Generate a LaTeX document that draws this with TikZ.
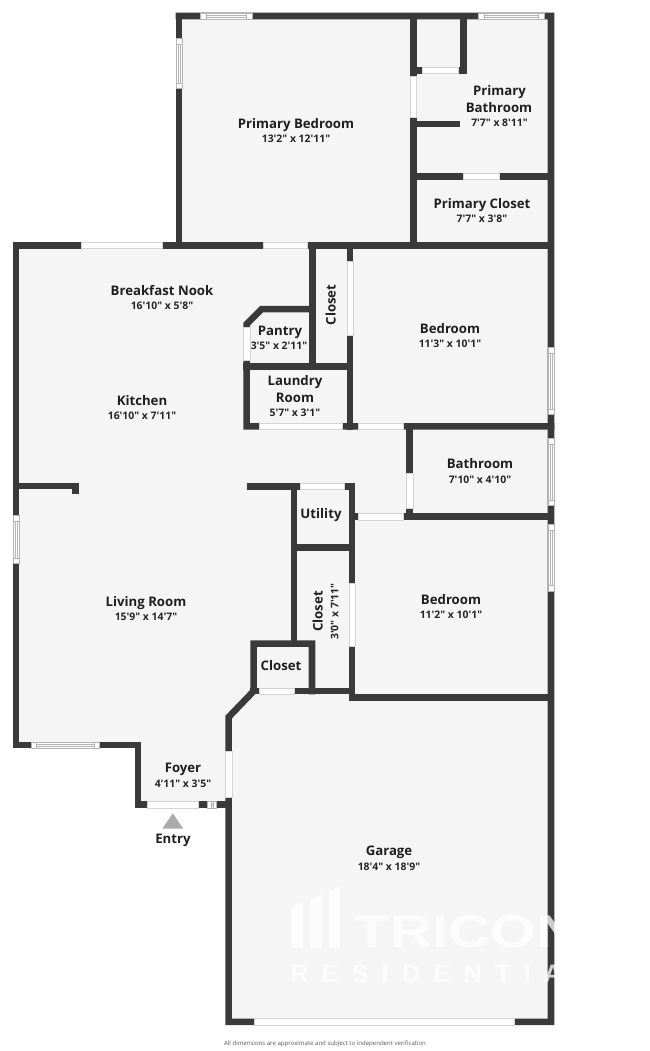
\documentclass[tikz,border=0pt]{standalone}
\usepackage{fontspec}
\newfontfamily\planfont{Open Sans}
\newfontfamily\markfont{Liberation Sans}
\newfontfamily\footfont{Open Sans}
\definecolor{wallc}{HTML}{3A3A3A}
\definecolor{floorc}{HTML}{F5F5F5}
\definecolor{edgec}{HTML}{D4D4D4}
\definecolor{winc}{HTML}{B4B4B4}
\newcommand{\hwin}[3]{%
  \fill[white] (#1,#3-3.2) rectangle (#2,#3+3.2);
  \draw[winline] (#1,#3-3.2) rectangle (#2,#3+3.2);
  \draw[winline] (#1+5.5,#3-3.2) -- (#1+5.5,#3+3.2) (#2-5.5,#3-3.2) -- (#2-5.5,#3+3.2);
  \draw[winline] (#1+5.5,#3-1) -- (#2-5.5,#3-1) (#1+5.5,#3+1) -- (#2-5.5,#3+1);}
\newcommand{\vwin}[3]{%
  \fill[white] (#3-3.2,#1) rectangle (#3+3.2,#2);
  \draw[winline] (#3-3.2,#1) rectangle (#3+3.2,#2);
  \draw[winline] (#3-3.2,#1+5.5) -- (#3+3.2,#1+5.5) (#3-3.2,#2-5.5) -- (#3+3.2,#2-5.5);
  \draw[winline] (#3-1,#1+5.5) -- (#3-1,#2-5.5) (#3+1,#1+5.5) -- (#3+1,#2-5.5);}
\newcommand{\hdoor}[3]{\draw[dooredge] (#1,#3-3.2) rectangle (#2,#3+3.2);}
\newcommand{\vdoor}[3]{\draw[dooredge] (#3-3.2,#1) rectangle (#3+3.2,#2);}
\tikzset{
  wall/.style={draw=wallc,line width=4.9pt,line cap=rect,line join=miter},
  winline/.style={draw=winc,line width=0.35pt},
  dooredge/.style={fill=white,draw=edgec,line width=0.4pt},
  namebase/.style={font=\planfont\bfseries\fontsize{9.9}{12}\selectfont,text=black!88,inner sep=0pt,anchor=base},
  dimbase/.style={font=\planfont\bfseries\fontsize{7.8}{10}\selectfont,text=black!85,inner sep=0pt,anchor=base},
  roomname/.style={namebase,yshift=-3.75pt},
  roomdim/.style={dimbase,yshift=-3.2pt}
}
\begin{document}
\begin{tikzpicture}[x=0.75pt,y=-0.75pt]
\useasboundingbox (0,0) rectangle (650,1051);
% floor
\fill[floorc] (16,245.5) -- (179,245.5) -- (179,16) -- (551,16) -- (551,1022) -- (228.7,1022) -- (228.7,804.7) -- (138,804.7) -- (138,745) -- (16,745) -- cycle;
% walls
\draw[wall] (179,16) -- (551,16) -- (551,1021.8) -- (228.7,1021.8) -- (228.7,717) -- (253.7,691) -- (253.7,643.7) -- (312,643.7) -- (312,691);
\draw[wall] (228.7,804.7) -- (138,804.7) -- (138,745) -- (16,745) -- (16,245.5) -- (179,245.5) -- (179,16);
\draw[wall] (179,245.5) -- (551,245.5);
\draw[wall] (413.3,16) -- (413.3,245.5);
\draw[wall] (463.5,16) -- (463.5,70.3) -- (413.3,70.3);
\draw[wall] (413.3,124) -- (457,124);
\draw[wall] (413.3,176.3) -- (551,176.3);
\draw[wall] (312.7,245.5) -- (312.7,366.3);
\draw[wall] (350,245.5) -- (350,426.3);
\draw[wall] (246.7,366.3) -- (350,366.3);
\draw[wall] (312.7,309.2) -- (261.5,309.2) -- (246.7,324) -- (246.7,426.3) -- (551,426.3);
\draw[wall] (409.7,426.3) -- (409.7,516.7);
\draw[wall] (352,516.7) -- (551,516.7);
\draw[wall] (250,486.3) -- (352,486.3) -- (352,697.5) -- (551,697.5);
\draw[wall] (294,486.3) -- (294,643.7);
\draw[wall] (294,547.7) -- (352,547.7);
\draw[wall] (253.7,691) -- (352,691);
\draw[wall] (16,486) -- (75.3,486) -- (75.3,491);
% windows
\hwin{200.7}{252}{16}
\hwin{478.3}{544}{16}
\vwin{38.3}{88.3}{179}
\vwin{347.7}{414.3}{551}
\vwin{438.3}{505.7}{551}
\vwin{524.3}{591}{551}
\vwin{515.7}{563.3}{16}
\hwin{31}{99.3}{745}
\hwin{207.3}{216.7}{804.7}
% doors
\hdoor{81}{162}{245.5}
\hdoor{263.3}{307.3}{245.5}
\vdoor{76}{117.3}{413.3}
\hdoor{422.7}{458.3}{70.3}
\hdoor{463.3}{499.3}{176.3}
\vdoor{261.7}{335.7}{350}
\vdoor{327.3}{360.7}{246.7}
\hdoor{259}{342.3}{426.3}
\hdoor{358.3}{403.3}{426.3}
\vdoor{473.3}{508.3}{409.7}
\hdoor{300}{344}{486.3}
\hdoor{358}{403.3}{516.7}
\vdoor{583.3}{646}{352}
\hdoor{259.3}{294}{691}
\vdoor{751.7}{797.7}{228.7}
\hdoor{147.3}{198.3}{804.7}
\hdoor{254.7}{514}{1021.8}
% entry marker
\fill[black!33] (162.3,828.7) -- (172.8,813.3) -- (183.3,828.7) -- cycle;
% watermark
\begin{scope}
\clip (280,880) rectangle (554.5,990);
\fill[white,opacity=0.75] (291,948) -- (291,908) -- (303,902) -- (303,948) -- cycle
  (310,948) -- (310,900) -- (322,894) -- (322,948) -- cycle
  (328.5,948) -- (328.5,892) -- (340,886) -- (340,948) -- cycle;
\node[anchor=west,inner sep=0pt,text=white,opacity=0.75,font=\markfont\bfseries\fontsize{34.5}{36}\selectfont,xscale=1.27] (tricon) at (354,931.5) {TRICON};
\node[anchor=west,inner sep=0pt,text=white,opacity=0.75,font=\markfont\bfseries\addfontfeature{LetterSpace=52}\fontsize{19}{20}\selectfont] (resid) at (290,974) {RESIDENTIA};
\end{scope}
% labels
\node[roomname] (n1) at (296,123) {Primary Bedroom};
\node[roomdim] (d1) at (296,138.5) {13'2" x 12'11"};
\node[roomname] (n2a) at (499.5,90) {Primary};
\node[roomname] (n2b) at (499,107) {Bathroom};
\node[roomdim] (d2) at (499.5,122) {7'7" x 8'11"};
\node[roomname] (n3) at (482,203) {Primary Closet};
\node[roomdim] (d3) at (482,218) {7'7" x 3'8"};
\node[roomname] (n4) at (162,290) {Breakfast Nook};
\node[roomdim] (d4) at (162,305) {16'10" x 5'8"};
\node[roomname] (n5) at (142,400) {Kitchen};
\node[roomdim] (d5) at (142,415.5) {16'10" x 7'11"};
\node[roomname] (n6) at (146,601) {Living Room};
\node[roomdim] (d6) at (146,616.5) {15'9" x 14'7"};
\node[roomname] (n7) at (280,330) {Pantry};
\node[roomdim] (d7) at (279,345) {3'5" x 2'11"};
\node[roomname] (n8a) at (295,380) {Laundry};
\node[roomname] (n8b) at (295,397) {Room};
\node[roomdim] (d8) at (295,412.5) {5'7" x 3'1"};
\node[namebase,rotate=90] (n9) at (335.5,305) {Closet};
\node[roomname] (n10) at (450,328) {Bedroom};
\node[roomdim] (d10) at (450,343.5) {11'3" x 10'1"};
\node[roomname] (n11) at (480,463) {Bathroom};
\node[roomdim] (d11) at (480,479) {7'10" x 4'10"};
\node[roomname] (n12) at (321,513) {Utility};
\node[namebase,rotate=90] (n13) at (322.7,611.5) {Closet};
\node[dimbase,rotate=90] (d13) at (338.3,611.5) {3'0" x 7'11"};
\node[roomname] (n14) at (281,665) {Closet};
\node[roomname] (n15) at (451,599) {Bedroom};
\node[roomdim] (d15) at (451,614.5) {11'2" x 10'1"};
\node[roomname] (n16) at (183,767) {Foyer};
\node[roomdim] (d16) at (183,783) {4'11" x 3'5"};
\node[roomname] (n17) at (173,838) {Entry};
\node[roomname] (n18) at (389,850) {Garage};
\node[roomdim] (d18) at (389,866) {18'4" x 18'9"};
\node[inner sep=0pt,text=black!65,font=\footfont\fontsize{4.55}{6}\selectfont] (foot) at (325,1044) {All dimensions are approximate and subject to independent verification};
\end{tikzpicture}
\end{document}
